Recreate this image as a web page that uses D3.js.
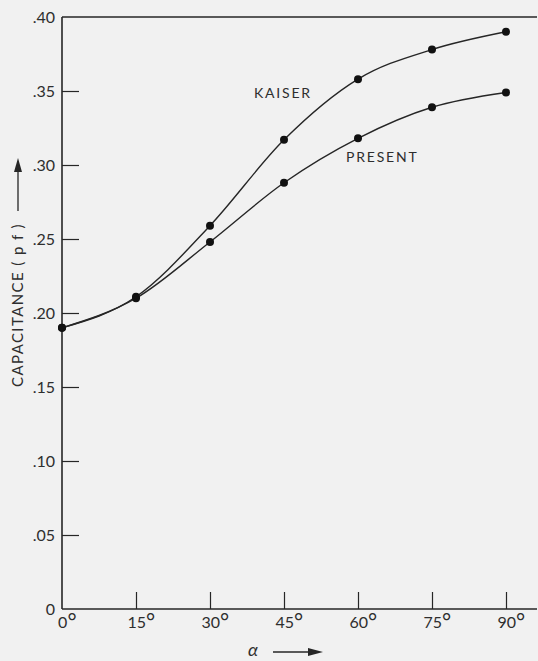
<!DOCTYPE html>
<html>
<head>
<meta charset="utf-8">
<script src="https://cdn.jsdelivr.net/npm/d3@7"></script>
<style>
  html, body { margin: 0; padding: 0; background: #f1f1f1; }
  svg { display: block; }
  text { font-family: "Lato", "DejaVu Sans", sans-serif; font-weight: 400; fill: #2e2e2e; }
</style>
</head>
<body>
<svg id="chart" width="538" height="661"></svg>
<script>
// Angle alpha (degrees) and capacitance (pF) for the two calculations
const angles = [0, 15, 30, 45, 60, 75, 90];
const kaiser = [0.190, 0.211, 0.259, 0.317, 0.358, 0.378, 0.390];
const present = [0.190, 0.210, 0.248, 0.288, 0.318, 0.339, 0.349];
const yTicks = [0, 0.05, 0.10, 0.15, 0.20, 0.25, 0.30, 0.35, 0.40];
const yTickLabels = ["0", ".05", ".10", ".15", ".20", ".25", ".30", ".35", ".40"];
const xTickLabels = ["0", "15", "30", "45", "60", "75", "90"];

const svg = d3.select("#chart");
const ink = "#262626";
const labelFont = "Lato, DejaVu Sans, sans-serif";

const x = d3.scaleLinear().domain([0, 90]).range([62, 506]);
const y = d3.scaleLinear().domain([0, 0.40]).range([609, 17]);
const rightEdge = 537;

// frame: left axis, bottom axis, top rule
svg.append("line").attr("x1", x(0)).attr("x2", x(0)).attr("y1", y(0.40)).attr("y2", y(0))
  .attr("stroke", ink).attr("stroke-width", 1.6);
svg.append("line").attr("x1", x(0)).attr("x2", rightEdge).attr("y1", y(0)).attr("y2", y(0))
  .attr("stroke", ink).attr("stroke-width", 1.6);
svg.append("line").attr("x1", x(0)).attr("x2", rightEdge).attr("y1", y(0.40)).attr("y2", y(0.40))
  .attr("stroke", ink).attr("stroke-width", 1.3);

// y ticks (inward) and labels
const yAxis = d3.axisLeft(y).tickValues(yTicks).tickSizeInner(-17).tickSizeOuter(0)
  .tickPadding(7).tickFormat((d, i) => yTickLabels[i]);
const gy = svg.append("g").attr("transform", `translate(${x(0)},0)`).call(yAxis);
gy.select(".domain").remove();
gy.selectAll(".tick line").attr("stroke", ink).attr("stroke-width", 1.2)
  .filter(d => d === 0 || d === 0.40).remove();
gy.selectAll(".tick text").attr("font-size", 16).attr("fill", "#2e2e2e")
  .attr("font-family", labelFont).attr("font-weight", 400);

// x ticks (upward) and degree labels
const xAxis = d3.axisBottom(x).tickValues(angles).tickSizeInner(-17).tickSizeOuter(0)
  .tickPadding(7).tickFormat(() => "");
const gx = svg.append("g").attr("transform", `translate(0,${y(0)})`).call(xAxis);
gx.select(".domain").remove();
gx.selectAll(".tick line").attr("stroke", ink).attr("stroke-width", 1.2)
  .filter(d => d === 0).remove();
gx.selectAll(".tick").each(function (d, i) {
  const t = d3.select(this).select("text")
    .attr("font-size", 16).attr("fill", "#2e2e2e").attr("text-anchor", "middle")
    .attr("font-family", labelFont).attr("font-weight", 400)
    .attr("dy", "0.75em").attr("dx", "0.3em").text(null);
  t.append("tspan").text(xTickLabels[i]);
  t.append("tspan").attr("font-size", 22).attr("dy", "0.05em").text("\u00B0");
});

// smooth curves through the points
const line = d3.line().x((d, i) => x(angles[i])).y(d => y(d)).curve(d3.curveMonotoneX);
[kaiser, present].forEach(series => {
  svg.append("path").datum(series).attr("d", line)
    .attr("fill", "none").attr("stroke", ink).attr("stroke-width", 1.4);
  svg.append("g").selectAll("circle").data(series).join("circle")
    .attr("cx", (d, i) => x(angles[i])).attr("cy", d => y(d)).attr("r", 4)
    .attr("fill", "#111");
});

// curve labels
svg.append("text").attr("x", 254).attr("y", 98).attr("font-size", 14)
  .attr("letter-spacing", 1.8).text("KAISER");
svg.append("text").attr("x", 346).attr("y", 162).attr("font-size", 14)
  .attr("letter-spacing", 1.8).text("PRESENT");

// y-axis title with arrow
svg.append("text").attr("transform", "translate(23,305) rotate(-90)")
  .attr("text-anchor", "middle").attr("font-size", 15).attr("letter-spacing", 1.4)
  .text("CAPACITANCE  ( p f )");
svg.append("line").attr("x1", 18).attr("x2", 18).attr("y1", 211).attr("y2", 170)
  .attr("stroke", ink).attr("stroke-width", 1.3);
svg.append("path").attr("d", "M18,158 L14,172 L22,172 Z").attr("fill", ink);

// x-axis title with arrow
svg.append("text").attr("x", 253).attr("y", 656).attr("text-anchor", "middle")
  .attr("font-size", 18).attr("font-family", "DejaVu Serif, serif").attr("font-style", "italic")
  .text("\u03B1");
svg.append("line").attr("x1", 273).attr("x2", 312).attr("y1", 652).attr("y2", 652)
  .attr("stroke", ink).attr("stroke-width", 1.4);
svg.append("path").attr("d", "M323,652 L308,648 L308,656 Z").attr("fill", ink);
</script>
</body>
</html>
